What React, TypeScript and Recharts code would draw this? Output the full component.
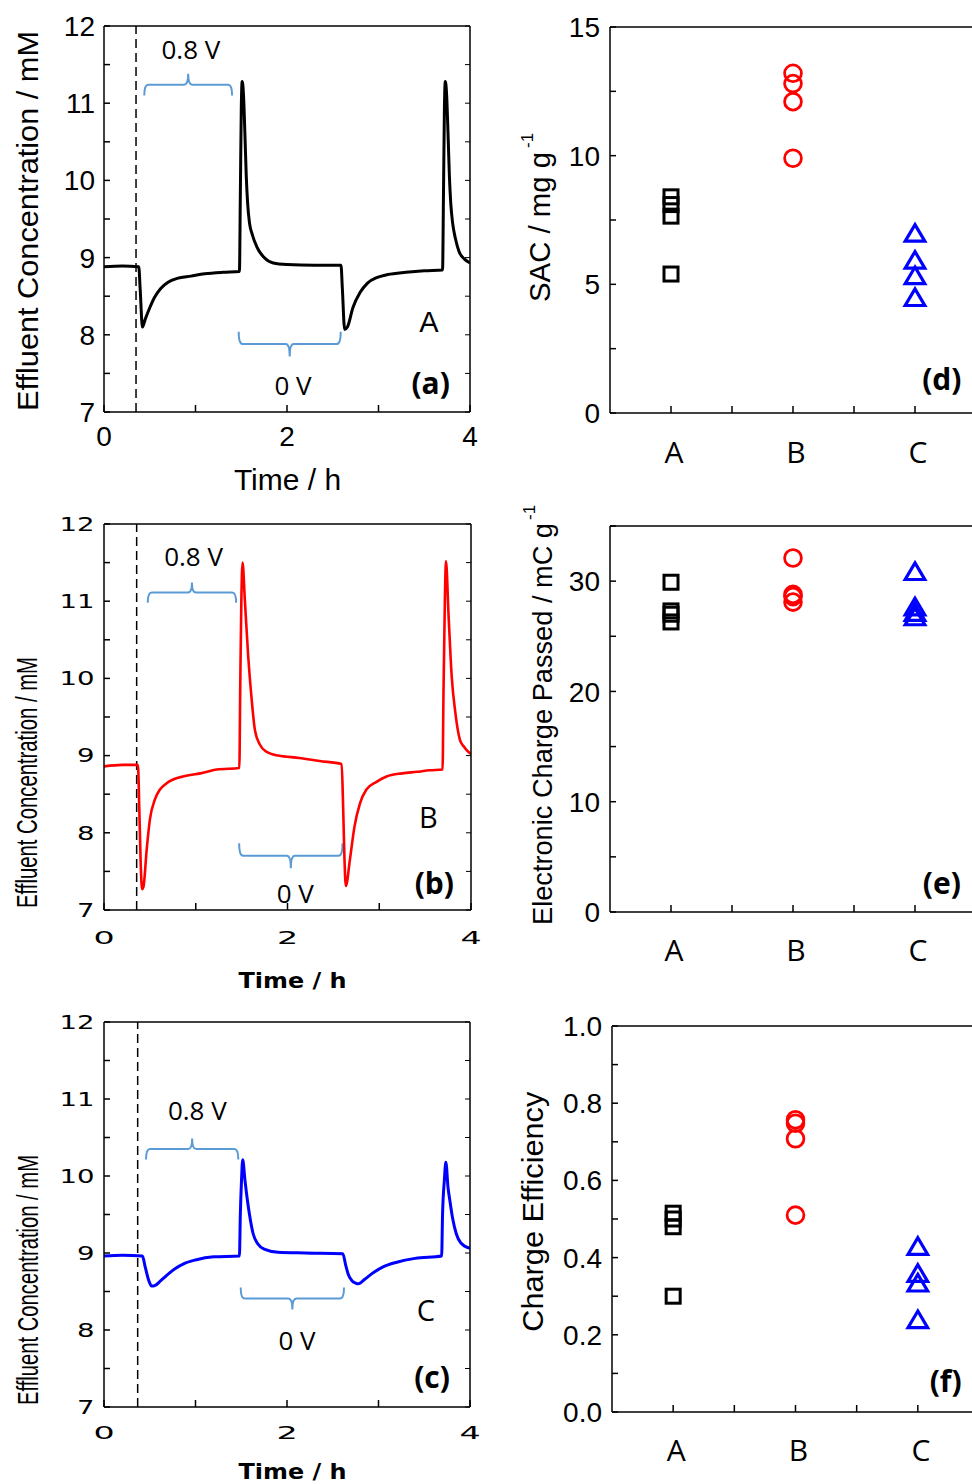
import React from 'react';
import {
  LineChart, Line, ScatterChart, Scatter, XAxis, YAxis,
  ReferenceLine, ReferenceArea, ReferenceDot,
} from 'recharts';

// effluent traces: time (h) and concentration (mM)
const timeA = [0, 0.2, 0.38, 0.395, 0.42, 0.45, 0.5, 0.55, 0.62, 0.7, 0.8, 0.95, 1.1, 1.3, 1.48, 1.49, 1.5, 1.51, 1.525, 1.54, 1.555, 1.57, 1.59, 1.62, 1.67, 1.75, 1.85, 2.0, 2.3, 2.59, 2.605, 2.63, 2.66, 2.72, 2.8, 2.88, 2.98, 3.1, 3.3, 3.5, 3.7, 3.71, 3.72, 3.73, 3.745, 3.76, 3.775, 3.79, 3.81, 3.84, 3.88, 3.94, 4.0];
const concA = [8.88, 8.89, 8.88, 8.6, 8.1, 8.2, 8.35, 8.48, 8.6, 8.68, 8.73, 8.76, 8.79, 8.81, 8.82, 9.8, 10.9, 11.28, 11.1, 10.6, 10.05, 9.7, 9.45, 9.3, 9.14, 9.0, 8.93, 8.91, 8.9, 8.9, 8.6, 8.07, 8.1, 8.35, 8.55, 8.67, 8.74, 8.78, 8.81, 8.83, 8.84, 9.8, 10.9, 11.28, 11.1, 10.6, 10.05, 9.7, 9.45, 9.25, 9.08, 8.98, 8.93];

const timeB = [0, 0.2, 0.37, 0.385, 0.4, 0.415, 0.43, 0.465, 0.5, 0.554, 0.61, 0.68, 0.86, 1.05, 1.23, 1.475, 1.485, 1.497, 1.51, 1.535, 1.572, 1.61, 1.645, 1.7, 1.77, 1.9, 2.13, 2.35, 2.59, 2.605, 2.62, 2.636, 2.68, 2.73, 2.79, 2.86, 2.97, 3.08, 3.25, 3.41, 3.55, 3.69, 3.7, 3.715, 3.727, 3.756, 3.79, 3.83, 3.88, 3.92, 3.96, 4.0];
const concB = [8.86, 8.88, 8.88, 8.3, 7.6, 7.27, 7.3, 7.78, 8.17, 8.43, 8.56, 8.64, 8.73, 8.77, 8.82, 8.84, 9.9, 11.0, 11.5, 11.02, 10.28, 9.72, 9.33, 9.14, 9.05, 9.0, 8.97, 8.93, 8.89, 8.4, 7.7, 7.31, 7.65, 8.08, 8.38, 8.56, 8.66, 8.73, 8.77, 8.79, 8.81, 8.82, 9.8, 11.0, 11.52, 10.8, 10.02, 9.55, 9.2, 9.12, 9.06, 9.02];

const timeC = [0, 0.2, 0.42, 0.45, 0.49, 0.52, 0.56, 0.62, 0.685, 0.78, 0.87, 1.0, 1.2, 1.48, 1.49, 1.503, 1.516, 1.54, 1.56, 1.59, 1.63, 1.68, 1.75, 1.9, 2.2, 2.61, 2.64, 2.67, 2.71, 2.75, 2.78, 2.85, 2.95, 3.05, 3.2, 3.4, 3.69, 3.7, 3.72, 3.736, 3.76, 3.78, 3.81, 3.85, 3.9, 4.0];
const concC = [8.96, 8.97, 8.96, 8.82, 8.64, 8.57, 8.58, 8.64, 8.71, 8.8, 8.86, 8.91, 8.95, 8.96, 9.5, 9.95, 10.21, 9.95, 9.75, 9.5, 9.25, 9.12, 9.05, 9.01, 9.0, 8.99, 8.85, 8.72, 8.64, 8.61, 8.6, 8.66, 8.75, 8.82, 8.88, 8.93, 8.96, 9.5, 9.95, 10.18, 9.85, 9.68, 9.45, 9.25, 9.13, 9.06];

// time at which the cell is switched on (dashed marker)
const switchOnA = 0.35;
const switchOnB = 0.356;
const switchOnC = 0.368;

const timeTicks = [0, 1, 2, 3, 4];
const concTicks = [7, 7.5, 8, 8.5, 9, 9.5, 10, 10.5, 11, 11.5, 12];

// summary per electrode material
const materials = ['A', 'B', 'C'];
const materialTicks = [1, 1.5, 2, 2.5, 3, 3.5];

const sacA = [8.4, 8.1, 7.65, 5.4];
const sacB = [13.2, 12.8, 12.1, 9.9];
const sacC = [7.0, 5.95, 5.35, 4.5];
const sacTicks = [0, 2.5, 5, 7.5, 10, 12.5, 15];

const chargeA = [29.9, 27.3, 27.0, 26.3];
const chargeB = [32.1, 28.8, 28.6, 28.1];
const chargeC = [30.9, 27.7, 27.2, 26.8];
const chargeTicks = [0, 5, 10, 15, 20, 25, 30, 35];

const effA = [0.515, 0.5, 0.48, 0.3];
const effB = [0.757, 0.748, 0.708, 0.51];
const effC = [0.43, 0.36, 0.335, 0.24];
const effTicks = [0, 0.1, 0.2, 0.3, 0.4, 0.5, 0.6, 0.7, 0.8, 0.9, 1.0];

const ARIAL = '"Liberation Sans", Arial, sans-serif';
const WIDE = '"DejaVu Sans", Verdana, sans-serif';
const SANS = '"Open Sans", "Noto Sans", sans-serif';
const BRACE = '#5B9BD5';
const axisStroke = { stroke: '#000', strokeWidth: 1.5 };

type TickCfg = {
  font: string; size: number; anchor: 'end' | 'middle'; dy: string;
  dx?: number; stretch?: number; label: (v: number) => string | null;
};

const makeTick = (c: TickCfg) => (p: any) => {
  const text = c.label(p.payload.value);
  if (text === null) return <g />;
  return (
    <g transform={`translate(${p.x + (c.dx ?? 0)},${p.y}) scale(${c.stretch ?? 1},1)`}>
      <text x={0} y={0} dy={c.dy} textAnchor={c.anchor} fontFamily={c.font} fontSize={c.size} fill="#000">
        {text}
      </text>
    </g>
  );
};
const noTick = () => <g />;

const isWhole = (v: number) => Math.abs(v - Math.round(v)) < 1e-6;

// curly brace drawn into a reference area; tipUp puts the point at the top
const braceShape = (tipUp: boolean) => (p: any) => {
  const { x, y, width: w, height: h } = p;
  const r = 4;
  const mid = y + h / 2;
  const end = tipUp ? y + h : y;
  const tip = tipUp ? y : y + h;
  const cx = x + w / 2;
  const d = `M${x},${end} Q${x},${mid} ${x + r},${mid} L${cx - r},${mid} Q${cx},${mid} ${cx},${tip} ` +
    `Q${cx},${mid} ${cx + r},${mid} L${x + w - r},${mid} Q${x + w},${mid} ${x + w},${end}`;
  return <path d={d} fill="none" stroke={BRACE} strokeWidth={2} />;
};

const noteShape = (text: string, font: string, size: number, weight = 400) => (p: any) => (
  <text x={p.cx} y={p.cy} textAnchor="middle" dominantBaseline="central"
    fontFamily={font} fontSize={size} fontWeight={weight} fill="#000">
    {text}
  </text>
);

type Margin = { top: number; right: number; bottom: number; left: number };
type Pt = [number, number];

// margins below are given as the plot box edges; the 1px axis bands are taken off here
const axisMargin = (m: Margin): Margin => ({
  top: m.top - 1, right: m.right - 1, bottom: m.bottom - 1, left: m.left - 1,
});

type TraceProps = {
  time: number[]; conc: number[]; color: string; lineWidth: number;
  width: number; height: number; margin: Margin; switchOn: number;
  wideTicks: boolean; xLabelGap: number;
  brace08: [number, number, number, number]; brace0: [number, number, number, number];
  note08: Pt; note0: Pt; letter: string; letterAt: Pt; panel: string; panelAt: Pt;
};

function TraceChart(props: TraceProps) {
  const { time, conc, color, lineWidth, width, height, margin, switchOn, wideTicks } = props;
  const rows = time.map((t, i) => ({ t, v: conc[i] }));

  const yTick = wideTicks
    ? makeTick({ font: WIDE, size: 19, stretch: 1.45, anchor: 'end', dy: '0.36em', label: (v) => (isWhole(v) ? String(v) : null) })
    : makeTick({ font: ARIAL, size: 28, anchor: 'end', dy: '0.36em', label: (v) => (isWhole(v) ? String(v) : null) });
  const xTick = wideTicks
    ? makeTick({ font: WIDE, size: 18.5, stretch: 1.8, anchor: 'middle', dy: '0.73em', label: (v) => (v % 2 === 0 ? String(v) : null) })
    : makeTick({ font: ARIAL, size: 28, anchor: 'middle', dy: '0.72em', label: (v) => (v % 2 === 0 ? String(v) : null) });

  const ids = { xAxisId: 'b', yAxisId: 'l' };

  return (
    <LineChart width={width} height={height} data={rows} margin={axisMargin(margin)}>
      <XAxis xAxisId="b" dataKey="t" type="number" domain={[0, 4]} allowDataOverflow ticks={timeTicks}
        interval={0} height={1} tickSize={-7} tickMargin={props.xLabelGap + 7}
        axisLine={axisStroke} tickLine={axisStroke} tick={xTick} />
      <XAxis xAxisId="t" orientation="top" dataKey="t" type="number" domain={[0, 4]} allowDataOverflow
        ticks={timeTicks} interval={0} height={1} axisLine={axisStroke} tickLine={false} tick={noTick} />
      <YAxis yAxisId="l" type="number" domain={[7, 12]} allowDataOverflow ticks={concTicks} interval={0}
        width={1} tickSize={-6} tickMargin={wideTicks ? 15.5 : 15}
        axisLine={axisStroke} tickLine={axisStroke} tick={yTick} />
      <YAxis yAxisId="r" orientation="right" type="number" domain={[7, 12]} allowDataOverflow ticks={concTicks}
        interval={0} width={1} tickSize={-5} axisLine={axisStroke} tickLine={{ stroke: '#000', strokeWidth: 1 }} tick={noTick} />

      <ReferenceLine {...ids} x={switchOn} stroke="#000" strokeWidth={1.5} strokeDasharray="9 5" />

      <ReferenceArea {...ids} x1={props.brace08[0]} x2={props.brace08[1]} y1={props.brace08[2]} y2={props.brace08[3]}
        ifOverflow="visible" shape={braceShape(true)} />
      <ReferenceArea {...ids} x1={props.brace0[0]} x2={props.brace0[1]} y1={props.brace0[2]} y2={props.brace0[3]}
        ifOverflow="visible" shape={braceShape(false)} />

      <Line {...ids} dataKey="v" type="monotone" stroke={color} strokeWidth={lineWidth} dot={false}
        activeDot={false} isAnimationActive={false} />

      <ReferenceDot {...ids} x={props.note08[0]} y={props.note08[1]} ifOverflow="visible" shape={noteShape('0.8 V', SANS, 26)} />
      <ReferenceDot {...ids} x={props.note0[0]} y={props.note0[1]} ifOverflow="visible" shape={noteShape('0 V', SANS, 26)} />
      <ReferenceDot {...ids} x={props.letterAt[0]} y={props.letterAt[1]} ifOverflow="visible"
        shape={noteShape(props.letter, wideTicks ? SANS : ARIAL, 29)} />
      <ReferenceDot {...ids} x={props.panelAt[0]} y={props.panelAt[1]} ifOverflow="visible"
        shape={noteShape(props.panel, SANS, 30, 700)} />
    </LineChart>
  );
}

// hollow markers
const squareMark = (p: any) => (
  <rect x={p.cx - 7} y={p.cy - 7} width={14} height={14} fill="none" stroke="#000" strokeWidth={3} />
);
const circleMark = (p: any) => (
  <circle cx={p.cx} cy={p.cy} r={8.4} fill="none" stroke="#ff0000" strokeWidth={2.8} />
);
const triangleMark = (p: any) => (
  <path d={`M${p.cx},${p.cy - 8.3} L${p.cx + 9.8},${p.cy + 8.3} L${p.cx - 9.8},${p.cy + 8.3} Z`}
    fill="none" stroke="#0000ff" strokeWidth={3.2} />
);

type SummaryProps = {
  a: number[]; b: number[]; c: number[]; domain: [number, number]; ticks: number[];
  label: (v: number) => string | null; width: number; height: number; margin: Margin;
  xLabelGap: number; panel: string; panelAt: Pt;
};

function SummaryChart(props: SummaryProps) {
  const { a, b, c, domain, ticks, width, height, margin } = props;
  const ptsA = a.map((y) => ({ x: 1, y }));
  const ptsB = b.map((y) => ({ x: 2, y }));
  const ptsC = c.map((y) => ({ x: 3, y }));
  const ids = { xAxisId: 'b', yAxisId: 'l' };

  const yTick = makeTick({ font: ARIAL, size: 28, anchor: 'end', dy: '0.36em', label: props.label });
  const xTick = makeTick({
    font: SANS, size: 30, anchor: 'middle', dy: '0.72em', dx: 3,
    label: (v) => (isWhole(v) ? materials[Math.round(v) - 1] : null),
  });

  return (
    <ScatterChart width={width} height={height} margin={axisMargin(margin)}>
      <XAxis xAxisId="b" dataKey="x" type="number" domain={[0.5, 3.5]} allowDataOverflow ticks={materialTicks}
        interval={0} height={1} tickSize={-7} tickMargin={props.xLabelGap + 7}
        axisLine={axisStroke} tickLine={axisStroke} tick={xTick} />
      <XAxis xAxisId="t" orientation="top" dataKey="x" type="number" domain={[0.5, 3.5]} allowDataOverflow
        ticks={materialTicks} interval={0} height={1} axisLine={axisStroke} tickLine={false} tick={noTick} />
      <YAxis yAxisId="l" dataKey="y" type="number" domain={domain} allowDataOverflow ticks={ticks} interval={0}
        width={1} tickSize={-6} tickMargin={16} axisLine={axisStroke} tickLine={axisStroke} tick={yTick} />

      <Scatter {...ids} data={ptsA} shape={squareMark} isAnimationActive={false} />
      <Scatter {...ids} data={ptsB} shape={circleMark} isAnimationActive={false} />
      <Scatter {...ids} data={ptsC} shape={triangleMark} isAnimationActive={false} />

      <ReferenceDot {...ids} x={props.panelAt[0]} y={props.panelAt[1]} ifOverflow="visible"
        shape={noteShape(props.panel, SANS, 30, 700)} />
    </ScatterChart>
  );
}

const Box = ({ left, top, children }: { left: number; top: number; children: React.ReactNode }) => (
  <div style={{ position: 'absolute', left, top }}>{children}</div>
);

export default function App() {
  return (
    <div style={{ position: 'absolute', left: 0, top: 0, width: 972, height: 1484, overflow: 'hidden', background: '#fff' }}>
      <Box left={0} top={0}>
        <TraceChart time={timeA} conc={concA} color="#000" lineWidth={3} width={490} height={500}
          margin={{ top: 26, right: 20, bottom: 88, left: 104 }} switchOn={switchOnA} wideTicks={false} xLabelGap={14}
          brace08={[0.44, 1.4, 11.1, 11.38]} brace0={[1.472, 2.587, 7.72, 8.04]}
          note08={[0.95, 11.7]} note0={[2.066, 7.35]} letter="A" letterAt={[3.55, 8.17]} panel="(a)" panelAt={[3.57, 7.38]} />
      </Box>
      <Box left={0} top={500}>
        <TraceChart time={timeB} conc={concB} color="#ff0000" lineWidth={2.6} width={490} height={500}
          margin={{ top: 24, right: 19, bottom: 90, left: 104 }} switchOn={switchOnB} wideTicks xLabelGap={20}
          brace08={[0.477, 1.44, 10.98, 11.243]} brace0={[1.473, 2.6, 7.54, 7.865]}
          note08={[0.976, 11.59]} note0={[2.084, 7.22]} letter="B" letterAt={[3.534, 8.205]} panel="(b)" panelAt={[3.6, 7.35]} />
      </Box>
      <Box left={0} top={1000}>
        <TraceChart time={timeC} conc={concC} color="#0000ff" lineWidth={3} width={490} height={484}
          margin={{ top: 22, right: 20, bottom: 77, left: 104 }} switchOn={switchOnC} wideTicks xLabelGap={18}
          brace08={[0.459, 1.468, 10.213, 10.486]} brace0={[1.494, 2.623, 8.265, 8.551]}
          note08={[1.02, 10.853]} note0={[2.109, 7.866]} letter="C" letterAt={[3.519, 8.269]} panel="(c)" panelAt={[3.585, 7.4]} />
      </Box>

      <Box left={490} top={0}>
        <SummaryChart a={sacA} b={sacB} c={sacC} domain={[0, 15]} ticks={sacTicks}
          label={(v) => (v % 5 === 0 ? String(v) : null)} width={500} height={500}
          margin={{ top: 27, right: 15, bottom: 87, left: 120 }} xLabelGap={28} panel="(d)" panelAt={[3.22, 1.35]} />
      </Box>
      <Box left={490} top={500}>
        <SummaryChart a={chargeA} b={chargeB} c={chargeC} domain={[0, 35]} ticks={chargeTicks}
          label={(v) => (v % 10 === 0 ? String(v) : null)} width={500} height={500}
          margin={{ top: 26, right: 15, bottom: 88, left: 120 }} xLabelGap={27} panel="(e)" panelAt={[3.22, 2.69]} />
      </Box>
      <Box left={490} top={1000}>
        <SummaryChart a={effA} b={effB} c={effC} domain={[0, 1]} ticks={effTicks}
          label={(v) => (isWhole(v * 5) ? v.toFixed(1) : null)} width={500} height={484}
          margin={{ top: 26, right: 12, bottom: 72, left: 122 }} xLabelGap={27} panel="(f)" panelAt={[3.227, 0.082]} />
      </Box>

      {/* axis titles */}
      <svg width={972} height={1484} style={{ position: 'absolute', left: 0, top: 0, pointerEvents: 'none' }}>
        <text transform="translate(38,221) rotate(-90)" textAnchor="middle" fontFamily={ARIAL} fontSize={30}
          textLength={380} lengthAdjust="spacingAndGlyphs">Effluent Concentration / mM</text>
        <text x={287.5} y={490} textAnchor="middle" fontFamily={ARIAL} fontSize={30}>Time / h</text>

        <text transform="translate(36.5,782.5) rotate(-90)" textAnchor="middle" fontFamily={ARIAL} fontSize={29}
          textLength={251} lengthAdjust="spacingAndGlyphs">Effluent Concentration / mM</text>
        <text x={292.5} y={988} textAnchor="middle" fontFamily={WIDE} fontSize={20.5} fontWeight={700}
          textLength={108} lengthAdjust="spacingAndGlyphs">Time / h</text>

        <text transform="translate(37.5,1280) rotate(-90)" textAnchor="middle" fontFamily={ARIAL} fontSize={29}
          textLength={250} lengthAdjust="spacingAndGlyphs">Effluent Concentration / mM</text>
        <text x={292.5} y={1478.5} textAnchor="middle" fontFamily={WIDE} fontSize={20.5} fontWeight={700}
          textLength={108} lengthAdjust="spacingAndGlyphs">Time / h</text>

        <g transform="translate(550,302) rotate(-90)">
          <text x={0} y={0} fontFamily={ARIAL} fontSize={30} textLength={150} lengthAdjust="spacingAndGlyphs">SAC / mg g</text>
          <text x={154} y={-17} fontFamily={ARIAL} fontSize={17}>-1</text>
        </g>
        <g transform="translate(552,925) rotate(-90)">
          <text x={0} y={0} fontFamily={ARIAL} fontSize={28} textLength={402} lengthAdjust="spacingAndGlyphs">Electronic Charge Passed / mC g</text>
          <text x={405} y={-17} fontFamily={ARIAL} fontSize={17}>-1</text>
        </g>
        <text transform="translate(542.5,1331.7) rotate(-90)" fontFamily={ARIAL} fontSize={30}
          textLength={240} lengthAdjust="spacingAndGlyphs">Charge Efficiency</text>
      </svg>
    </div>
  );
}
